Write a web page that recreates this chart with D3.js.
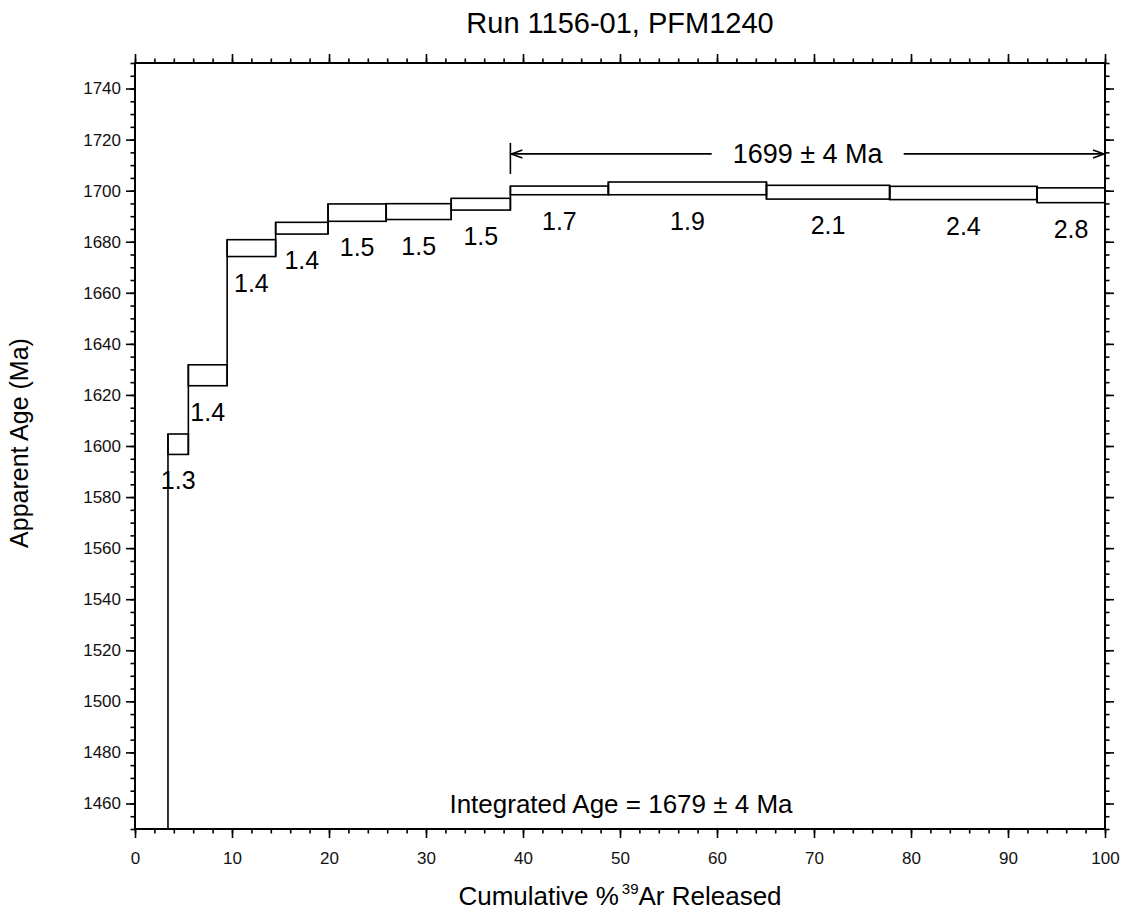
<!DOCTYPE html>
<html lang="en">
<head>
  <meta charset="UTF-8" />
  <title>Run 1156-01, PFM1240</title>
  <style>
    * { margin:0; padding:0; box-sizing:border-box; }
    body { background:#fff; font-family:'Liberation Sans', Arial, Helvetica, sans-serif; }
    svg { display:block; }
    .frame { fill:none; stroke:#000; stroke-width:2px; }
    .step { fill:none; stroke:#000; stroke-width:1.6px; }
    .tick line { stroke:#000; stroke-width:1.6px; }
    .tick text { font-size:17px; fill:#111; }
    .lbl { font-size:25px; fill:#000; }
  </style>
</head>
<body>
<script src="https://d3js.org/d3.v7.min.js"></script>
<script>
  // cumulative %39Ar at the step edges (first step runs off the bottom of the plot)
  const stepEdges = [0, 3.4, 5.5, 9.5, 14.5, 19.9, 25.9, 32.6, 38.7, 48.8, 65.1, 77.8, 93.0, 100];
  // apparent age (Ma) and 1-sigma error for each step
  const stepAges = [1300, 1600.7, 1627.7, 1677.5, 1685.3, 1691.4, 1691.8, 1694.7, 1700.1, 1700.9, 1699.4, 1699.1, 1698.2];
  const stepErrs = [10, 4.0, 4.1, 3.3, 2.3, 3.4, 3.1, 2.3, 1.7, 2.5, 2.7, 2.6, 2.9];
  const stepLabels = ['', '1.3', '1.4', '1.4', '1.4', '1.5', '1.5', '1.5', '1.7', '1.9', '2.1', '2.4', '2.8'];
  const xTicks = [0, 10, 20, 30, 40, 50, 60, 70, 80, 90, 100];
  const yTicks = [1460, 1480, 1500, 1520, 1540, 1560, 1580, 1600, 1620, 1640, 1660, 1680, 1700, 1720, 1740];
  const plateauRange = [38.7, 100];
  const plateauArrowAge = [1714.4];
  const plateauText = '1699 \u00b1 4 Ma';
  const integratedText = 'Integrated Age = 1679 \u00b1 4 Ma';

  const W = 1127, H = 913;
  const m = { top:63, right:22, bottom:84, left:135 };
  const iw = W - m.left - m.right, ih = H - m.top - m.bottom;

  const svg = d3.select('body').append('svg').attr('width', W).attr('height', H);
  const x = d3.scaleLinear().domain([0, 100]).range([0, iw]);
  const y = d3.scaleLinear().domain([1450, 1750]).range([ih, 0]);

  const g = svg.append('g').attr('transform', `translate(${m.left},${m.top})`);

  svg.append('defs').append('clipPath').attr('id', 'clip')
    .append('rect').attr('width', iw).attr('height', ih);

  // axes: minor + major ticks on all four sides, labels only left/bottom
  const xMinor = d3.range(0, 101, 2), yMinor = d3.range(1450, 1751, 5);
  function addAxis(axisFn, scale, minor, major, labels, tr, pad) {
    g.append('g').attr('transform', tr)
      .call(axisFn(scale).tickValues(minor).tickSize(4.5).tickFormat(''))
      .call(a => a.select('.domain').remove());
    g.append('g').attr('transform', tr)
      .call(axisFn(scale).tickValues(major).tickSize(9).tickPadding(pad)
        .tickFormat(labels ? d3.format('d') : ''))
      .call(a => a.select('.domain').remove());
  }
  addAxis(d3.axisBottom, x, xMinor, xTicks, true, `translate(0,${ih})`, 14);
  addAxis(d3.axisTop, x, xMinor, xTicks, false, 'translate(0,0)', 3);
  addAxis(d3.axisLeft, y, yMinor, yTicks, true, 'translate(0,0)', 5);
  addAxis(d3.axisRight, y, yMinor, yTicks, false, `translate(${iw},0)`, 3);
  g.selectAll('.tick text').attr('font-family', null);

  // age spectrum boxes
  const steps = stepAges.map((a, i) => ({
    x0: stepEdges[i], x1: stepEdges[i + 1], lo: a - stepErrs[i], hi: a + stepErrs[i], label: stepLabels[i]
  }));
  const plot = g.append('g').attr('clip-path', 'url(#clip)');
  plot.selectAll('rect.step').data(steps).join('rect')
    .attr('class', 'step')
    .attr('x', d => x(d.x0)).attr('width', d => x(d.x1) - x(d.x0))
    .attr('y', d => y(d.hi)).attr('height', d => y(d.lo) - y(d.hi));
  // vertical joins between neighbouring steps
  const joins = steps.slice(1).map((d, i) => ({
    x: d.x0, lo: Math.min(d.lo, steps[i].lo), hi: Math.max(d.hi, steps[i].hi)
  }));
  plot.selectAll('line.join').data(joins).join('line')
    .attr('class', 'step')
    .attr('x1', d => x(d.x)).attr('x2', d => x(d.x))
    .attr('y1', d => y(d.lo)).attr('y2', d => y(d.hi));

  g.selectAll('text.steplbl').data(steps.filter(d => d.label)).join('text')
    .attr('class', 'lbl')
    .attr('text-anchor', 'middle')
    .attr('x', d => x((d.x0 + d.x1) / 2))
    .attr('y', d => y(d.lo) + 35)
    .text(d => d.label);

  // plateau arrow
  const ay = y(plateauArrowAge[0]);
  const ax0 = x(plateauRange[0]), ax1 = x(plateauRange[1]);
  const amid = (ax0 + ax1) / 2, gap = 96;
  const ar = g.append('g').attr('stroke', '#000').attr('stroke-width', 1.6).attr('fill', 'none');
  ar.append('line').attr('x1', ax0).attr('x2', ax0).attr('y1', ay - 11).attr('y2', ay + 20);
  ar.append('line').attr('x1', ax0).attr('x2', amid - gap).attr('y1', ay).attr('y2', ay);
  ar.append('line').attr('x1', amid + gap).attr('x2', ax1).attr('y1', ay).attr('y2', ay);
  ar.append('path').attr('d', `M${ax0 + 12},${ay - 4}L${ax0 + 1},${ay}L${ax0 + 12},${ay + 4}`);
  ar.append('path').attr('d', `M${ax1 - 12},${ay - 4}L${ax1 - 1},${ay}L${ax1 - 12},${ay + 4}`);
  g.append('text').attr('class', 'lbl').attr('text-anchor', 'middle')
    .attr('x', amid).attr('y', ay + 9).style('font-size', '27px').text(plateauText);

  g.append('text').attr('class', 'lbl').attr('text-anchor', 'middle')
    .attr('x', iw / 2 + 1).attr('y', ih - 16).style('font-size', '26px').text(integratedText);

  g.append('rect').attr('class', 'frame').attr('width', iw).attr('height', ih);

  // titles
  svg.append('text').attr('class', 'lbl').attr('text-anchor', 'middle')
    .attr('x', m.left + iw / 2).attr('y', 33).style('font-size', '29px')
    .text('Run 1156-01, PFM1240');
  svg.append('text').attr('class', 'lbl').attr('text-anchor', 'middle')
    .attr('transform', `translate(28,${m.top + ih / 2 - 3}) rotate(-90)`)
    .text('Apparent Age (Ma)');
  const xt = svg.append('text').attr('class', 'lbl').attr('text-anchor', 'middle')
    .attr('x', m.left + iw / 2).attr('y', 905).style('font-size', '26px');
  xt.append('tspan').text('Cumulative %');
  xt.append('tspan').attr('dx', 3).attr('dy', -11).style('font-size', '15px').text('39');
  xt.append('tspan').attr('dy', 11).text('Ar Released');
</script>
</body>
</html>
